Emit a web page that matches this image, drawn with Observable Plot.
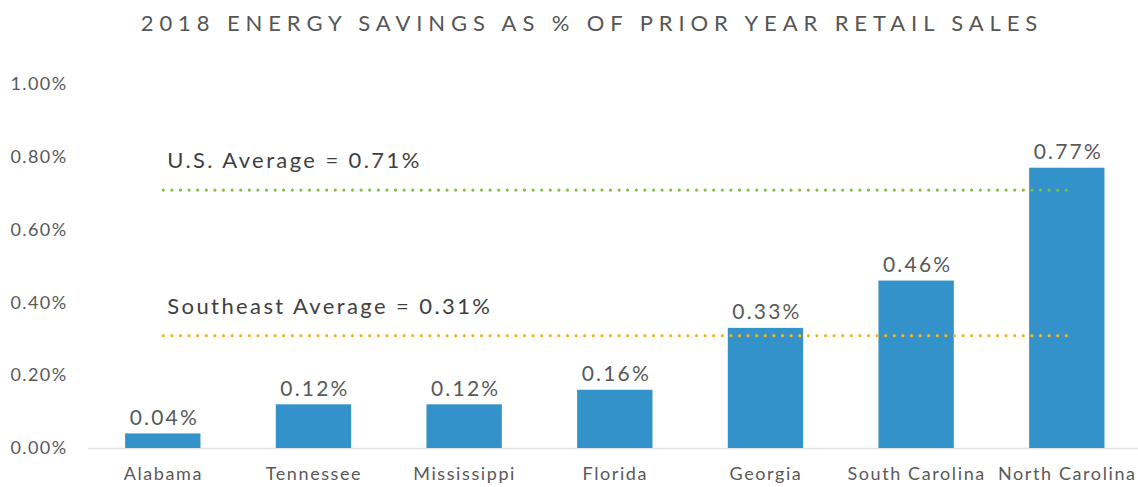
<!DOCTYPE html>
<html>
<head>
<meta charset="utf-8">
<script src="https://cdn.jsdelivr.net/npm/d3@7"></script>
<script src="https://cdn.jsdelivr.net/npm/@observablehq/plot@0.6"></script>
<style>
  html, body { margin: 0; padding: 0; background: #fff; }
  #title {
    height: 45px; line-height: 46px; text-align: center;
    font-family: Lato, "Open Sans", sans-serif; font-weight: 400;
    font-size: 22px; letter-spacing: 5.9px; color: #555;
    width: 1138px; padding-left: 46px; box-sizing: border-box; white-space: nowrap;
  }
  svg { display: block; }
  g[aria-label="x-axis tick label"] text { letter-spacing: 1.6px; }
  g[aria-label="y-axis tick label"] text { letter-spacing: 1.4px; }
  g[aria-description="value labels"] text { letter-spacing: 2.2px; }
  g[aria-description="average labels"] text { letter-spacing: 2.4px; }
</style>
</head>
<body>
<div id="title">2018 ENERGY SAVINGS AS % OF PRIOR YEAR RETAIL SALES</div>
<div id="chart"></div>
<script>
const states = ["Alabama", "Tennessee", "Mississippi", "Florida", "Georgia", "South Carolina", "North Carolina"];
const savings = [0.04, 0.12, 0.12, 0.16, 0.33, 0.46, 0.77];
const yTicks = [0, 0.2, 0.4, 0.6, 0.8, 1.0];
const usAverage = 0.71;
const seAverage = 0.31;
const usLabel = "U.S. Average = 0.71%";
const seLabel = "Southeast Average = 0.31%";

const data = states.map((s, i) => ({state: s, value: savings[i]}));
const avgLines = [
  {state: states[0], value: usAverage, key: "us"},
  {state: states[states.length - 1], value: usAverage, key: "us"},
  {state: states[0], value: seAverage, key: "se"},
  {state: states[states.length - 1], value: seAverage, key: "se"}
];
const avgLabels = [
  {state: states[0], value: usAverage, text: usLabel},
  {state: states[0], value: seAverage, text: seLabel}
];
const fontFamily = 'Lato, "Open Sans", sans-serif';

const chart = Plot.plot({
  width: 1138,
  height: 442,
  marginLeft: 95,
  marginRight: 3.4,
  marginTop: 39,
  marginBottom: 39,
  style: {fontFamily, color: "#595959", background: "#fff"},
  x: {domain: states, paddingInner: 0.5, paddingOuter: 0.2, round: false, label: null},
  y: {domain: [0, 1], label: null},
  marks: [
    Plot.axisX({tickSize: 0, tickPadding: 19, fontSize: 18, fill: "#595959", label: null}),
    Plot.axisY({ticks: yTicks, tickSize: 0, tickPadding: 28, fontSize: 18, fill: "#595959", label: null,
      tickFormat: d => d.toFixed(2) + "%"}),
    Plot.ruleY([0], {stroke: "#e3e3e3", strokeWidth: 1.5, insetLeft: -7, insetRight: -4}),
    Plot.barY(data, {x: "state", y: "value", fill: "#3392c9"}),
    Plot.lineY(avgLines, {x: "state", y: "value", z: "key",
      stroke: d => d.key === "us" ? "#7cc242" : "#f5b525",
      strokeWidth: 3.2, strokeDasharray: "0 8.6", strokeLinecap: "round"}),
    Plot.text(avgLabels, {x: "state", y: "value", text: "text", textAnchor: "start",
      dx: 4, dy: -29, fontSize: 22, fill: "#404040", ariaDescription: "average labels"}),
    Plot.text(data, {x: "state", y: "value", text: d => d.value.toFixed(2) + "%",
      dx: 1, dy: -16, fontSize: 21, fill: "#595959", ariaDescription: "value labels"})
  ]
});
document.getElementById("chart").appendChild(chart);
</script>
</body>
</html>
